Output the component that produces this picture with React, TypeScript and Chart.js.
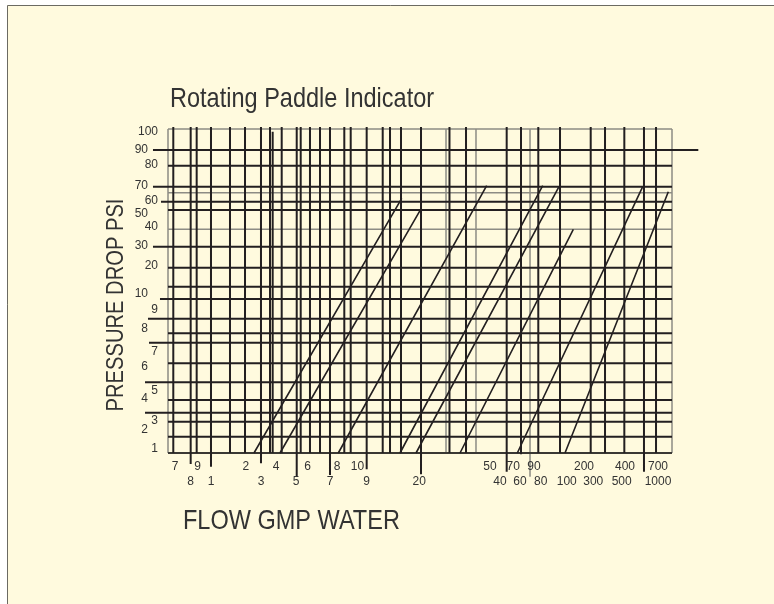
import { useEffect, useRef } from 'react';
import { Chart, registerables } from 'chart.js';

Chart.register(...registerables);

const CHART_TITLE = 'Rotating Paddle Indicator';
const X_TITLE = 'FLOW GMP WATER';
const Y_TITLE = 'PRESSURE DROP PSI';

// Chart units: the plot runs 0..100 across and 0..100 up (nomograph scale positions).
// Full-height vertical rules
const verticalRules = [1.05, 5.69, 12.3, 15.28, 20.24, 22.56, 26.33, 28.17, 30.16, 34.98, 36.25, 42.6, 44.05, 46.23, 55.85, 59.13, 73.47, 77.78, 83.87, 86.71, 90.54, 96.83];
// Vertical rules that continue below the plot as tick marks
const tickRulesX = [4.5, 8.53, 18.45, 25.54, 32.14, 39.42, 50.2, 67.2, 70.04, 94.44];
const tickRulesBottom = [-3.4, -4.23, -3.18, -7.31, -6.79, -5.03, -6.57, -5.77, -0.4, -5.77];
// Short rule beside the 20.24 rule
const shortRuleX = [20.77];
const shortRuleTop = [99.17];
// Light (grey) vertical rules
const grayVerticalRules = [55.16, 61.11, 71.83];
const grayVerticalBottom = [0, 0, -7.31];

// Horizontal rules
const horizontalRules = [93.52, 88.67, 82.19, 77.56, 75.0, 63.67, 57.19, 51.33, 47.53, 41.45, 36.94, 34.04, 27.69, 21.82, 16.36, 12.44, 9.66, 5.03];
const horizontalRuleStart = [-2.98, 0, -2.98, -1.39, 0, -2.98, 0, 0, -1.59, -3.97, 0, -3.77, 0, -4.56, 0, -4.56, 0, 0];
const horizontalRuleEnd = [105.22, 100, 100, 100, 100, 100, 100, 100, 100, 100, 100, 100, 100, 100, 100, 100, 100, 100];
const grayHorizontalRules = [80.34, 69.04];

// Pressure-drop lines (each starts on the bottom edge)
const curveStartX = [17.06, 22.22, 33.79, 46.03, 49.21, 57.94, 69.31, 78.77];
const curveEndX = [46.37, 50.14, 63.23, 74.35, 77.58, 80.42, 94.19, 99.27];
const curveEndY = [78.61, 75.22, 82.5, 82.5, 82.19, 69.04, 82.19, 80.65];

// Y tick labels (alternating inner / outer column)
const yTickPos = [99.07, 93.52, 88.89, 82.5, 77.8, 73.77, 69.75, 63.9, 57.7, 49.07, 44.14, 38.5, 31.27, 26.64, 19.23, 16.67, 9.97, 7.31, 1.45];
const yTickLabels = ['100', '90', '80', '70', '60', '50', '40', '30', '20', '10', '9', '8', '7', '6', '5', '4', '3', '2', '1'];

// X tick labels, two rows
const xTickTopPos = [1.39, 5.85, 15.42, 21.43, 27.72, 33.53, 37.6, 63.89, 68.51, 72.62, 82.54, 90.67, 97.22];
const xTickTopLabels = ['7', '9', '2', '4', '6', '8', '10', '50', '70', '90', '200', '400', '700'];
const xTickBottomPos = [4.5, 8.53, 18.45, 25.4, 32.14, 39.42, 49.86, 65.87, 69.84, 73.95, 79.11, 84.38, 90.02, 97.22];
const xTickBottomLabels = ['8', '1', '3', '5', '7', '9', '20', '40', '60', '80', '100', '300', '500', '1000'];

const RULE_TOP = 100.6;
const BLACK = '#231f20';
const GRAY = '#8d8c84';
const TEXT = '#333333';
const CREAM = '#fffade';
const FONT = '"Liberation Sans", Arial, Helvetica, sans-serif';

type Seg = [number, number, number, number];

function toPath(segs: Seg[]) {
  const out: { x: number; y: number }[] = [];
  segs.forEach(([x0, y0, x1, y1], i) => {
    if (i) out.push({ x: NaN, y: NaN });
    out.push({ x: x0, y: y0 }, { x: x1, y: y1 });
  });
  return out;
}

function ds(segs: Seg[], color: string, width: number) {
  return {
    data: toPath(segs),
    showLine: true,
    borderColor: color,
    backgroundColor: color,
    borderWidth: width,
    pointRadius: 0,
    pointHoverRadius: 0,
    spanGaps: false,
    clip: false as any,
    tension: 0,
  };
}

function narrowText(ctx: CanvasRenderingContext2D, text: string, x: number, y: number, size: number, sx: number, rot: number, align: CanvasTextAlign) {
  ctx.save();
  ctx.translate(x, y);
  ctx.rotate(rot);
  ctx.scale(sx, 1);
  ctx.font = `${size}px ${FONT}`;
  ctx.textAlign = align;
  ctx.textBaseline = 'alphabetic';
  ctx.fillStyle = TEXT;
  ctx.fillText(text, 0, 0);
  ctx.restore();
}

const pagePlugin = {
  id: 'page',
  beforeDraw(chart: any) {
    const { ctx, width, height } = chart;
    ctx.save();
    ctx.fillStyle = '#ffffff';
    ctx.fillRect(0, 0, width, height);
    ctx.fillStyle = CREAM;
    ctx.fillRect(7, 5, width - 7, height - 5);
    ctx.strokeStyle = '#6b6a62';
    ctx.lineWidth = 1;
    ctx.beginPath();
    ctx.moveTo(7.5, height);
    ctx.lineTo(7.5, 5.5);
    ctx.lineTo(width, 5.5);
    ctx.stroke();
    ctx.restore();
  },
};

const textPlugin = {
  id: 'nomoText',
  afterDatasetsDraw(chart: any) {
    const { ctx, chartArea: a, scales } = chart;
    const xs = scales.x;
    const ys = scales.y;
    ctx.save();
    ctx.fillStyle = TEXT;
    ctx.font = `12px ${FONT}`;
    ctx.textBaseline = 'middle';
    ctx.textAlign = 'right';
    yTickPos.forEach((v, i) => {
      ctx.fillText(yTickLabels[i], a.left - (i % 2 === 0 ? 10 : 20), ys.getPixelForValue(v));
    });
    ctx.textAlign = 'center';
    xTickTopPos.forEach((v, i) => {
      ctx.fillText(xTickTopLabels[i], xs.getPixelForValue(v), a.bottom + 13.5);
    });
    xTickBottomPos.forEach((v, i) => {
      ctx.fillText(xTickBottomLabels[i], xs.getPixelForValue(v), a.bottom + 28.5);
    });
    ctx.restore();
    narrowText(ctx, CHART_TITLE, a.left + 2, a.top - 21.7, 28, 0.84, 0, 'left');
    narrowText(ctx, X_TITLE, a.left + 15, a.bottom + 76, 28, 0.84, 0, 'left');
    narrowText(ctx, Y_TITLE, a.left - 44.7, a.top + 176, 24, 0.84, -Math.PI / 2, 'center');
  },
};

export default function App() {
  const ref = useRef<HTMLCanvasElement | null>(null);

  useEffect(() => {
    if (!ref.current) return;

    const blackV: Seg[] = [
      ...verticalRules.map((x) => [x, 0, x, RULE_TOP] as Seg),
      ...tickRulesX.map((x, i) => [x, tickRulesBottom[i], x, RULE_TOP] as Seg),
      ...shortRuleX.map((x, i) => [x, 0, x, shortRuleTop[i]] as Seg),
    ];
    const grayV: Seg[] = grayVerticalRules.map((x, i) => [x, grayVerticalBottom[i], x, 100] as Seg);
    const blackH: Seg[] = horizontalRules.map((y, i) => [horizontalRuleStart[i], y, horizontalRuleEnd[i], y] as Seg);
    const grayH: Seg[] = grayHorizontalRules.map((y) => [0, y, 100, y] as Seg);
    const frame: Seg[] = [
      [0, 0, 0, 100],
      [0, 100, 100, 100],
      [100, 100, 100, 0],
    ];
    const base: Seg[] = [[0, 0, 100, 0]];
    const curves: Seg[] = curveStartX.map((x, i) => [x, 0, curveEndX[i], curveEndY[i]] as Seg);

    const chart = new Chart(ref.current, {
      type: 'scatter',
      data: {
        datasets: [
          ds(curves, BLACK, 1.6),
          ds(blackV, BLACK, 2),
          ds(blackH, BLACK, 2),
          ds(base, '#3a3833', 2),
          ds(grayV, GRAY, 1.5),
          ds(grayH, GRAY, 1.5),
          ds(frame, GRAY, 1.5),
        ] as any,
      },
      options: {
        animation: false,
        responsive: false,
        events: [],
        layout: { padding: { left: 168, right: 102, top: 129, bottom: 151 } },
        plugins: {
          legend: { display: false },
          title: { display: false },
          tooltip: { enabled: false },
        },
        scales: {
          x: { type: 'linear', min: 0, max: 100, display: false },
          y: { type: 'linear', min: 0, max: 100, display: false },
        },
      },
      plugins: [pagePlugin, textPlugin],
    });

    return () => chart.destroy();
  }, []);

  return (
    <div style={{ position: 'fixed', left: 0, top: 0, width: 774, height: 604 }}>
      <canvas ref={ref} width={774} height={604} style={{ display: 'block', width: 774, height: 604 }} />
    </div>
  );
}
